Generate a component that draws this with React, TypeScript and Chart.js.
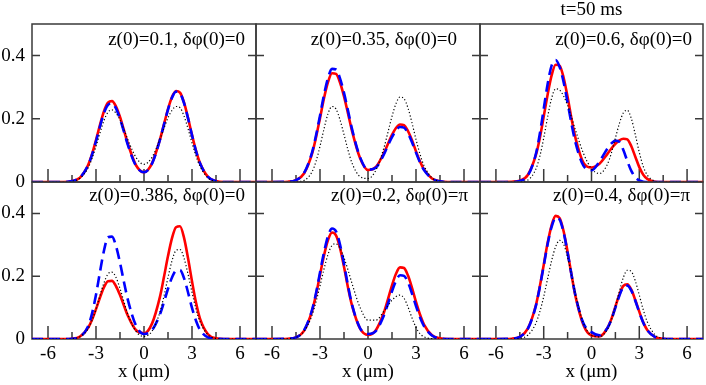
import React, { useEffect, useRef } from 'react';
import { Chart, registerables } from 'chart.js';

Chart.register(...registerables);

// ---------------- data ----------------
const X_POS = [-7, -6, -5, -4.5, -4, -3.5, -3.25, -3, -2.75, -2.5, -2.25, -2, -1.75, -1.5, -1.25, -1, -0.5, 0, 0.5, 1, 1.25, 1.5, 1.75, 2, 2.25, 2.5, 2.75, 3, 3.25, 3.5, 4, 4.5, 5, 6, 7];

const P1_RED = [0, 0, 0, 0.003, 0.014, 0.053, 0.088, 0.133, 0.181, 0.224, 0.251, 0.256, 0.239, 0.206, 0.163, 0.120, 0.053, 0.031, 0.059, 0.135, 0.183, 0.231, 0.269, 0.288, 0.283, 0.252, 0.203, 0.149, 0.099, 0.060, 0.016, 0.003, 0, 0, 0];
const P1_BLUE = [0, 0, 0, 0.003, 0.014, 0.052, 0.086, 0.129, 0.176, 0.218, 0.244, 0.249, 0.233, 0.200, 0.159, 0.116, 0.051, 0.031, 0.058, 0.134, 0.182, 0.229, 0.267, 0.286, 0.281, 0.250, 0.202, 0.148, 0.098, 0.059, 0.016, 0.003, 0, 0, 0];
const P1_DOT = [0, 0, 0, 0.002, 0.012, 0.044, 0.074, 0.113, 0.155, 0.195, 0.221, 0.228, 0.218, 0.196, 0.166, 0.133, 0.078, 0.056, 0.078, 0.136, 0.170, 0.203, 0.227, 0.239, 0.235, 0.209, 0.169, 0.124, 0.082, 0.050, 0.013, 0.002, 0, 0, 0];

const P2_RED = [0, 0, 0.001, 0.006, 0.027, 0.089, 0.141, 0.202, 0.265, 0.316, 0.344, 0.342, 0.315, 0.271, 0.217, 0.162, 0.076, 0.038, 0.048, 0.092, 0.121, 0.149, 0.171, 0.182, 0.180, 0.161, 0.132, 0.097, 0.065, 0.040, 0.011, 0.002, 0, 0, 0];
const P2_BLUE = [0, 0, 0.001, 0.006, 0.028, 0.093, 0.147, 0.210, 0.276, 0.329, 0.358, 0.356, 0.328, 0.282, 0.226, 0.168, 0.079, 0.039, 0.046, 0.088, 0.116, 0.142, 0.163, 0.174, 0.172, 0.154, 0.126, 0.093, 0.062, 0.038, 0.011, 0.002, 0, 0, 0];
const P2_DOT = [0, 0, 0, 0.001, 0.005, 0.032, 0.065, 0.113, 0.168, 0.216, 0.239, 0.231, 0.197, 0.150, 0.101, 0.060, 0.017, 0.011, 0.038, 0.109, 0.158, 0.208, 0.248, 0.269, 0.264, 0.234, 0.187, 0.135, 0.088, 0.052, 0.013, 0.002, 0, 0, 0];

const P3_RED = [0, 0, 0.001, 0.004, 0.022, 0.084, 0.138, 0.207, 0.278, 0.338, 0.371, 0.368, 0.330, 0.269, 0.199, 0.138, 0.060, 0.046, 0.058, 0.089, 0.106, 0.121, 0.132, 0.137, 0.135, 0.113, 0.080, 0.047, 0.023, 0.010, 0.001, 0, 0, 0, 0];
const P3_BLUE = [0, 0, 0, 0.003, 0.020, 0.087, 0.151, 0.231, 0.311, 0.369, 0.386, 0.364, 0.316, 0.251, 0.183, 0.124, 0.051, 0.037, 0.065, 0.106, 0.122, 0.131, 0.127, 0.101, 0.066, 0.035, 0.015, 0.005, 0.001, 0, 0, 0, 0, 0, 0];
const P3_DOT = [0, 0, 0, 0.001, 0.006, 0.040, 0.080, 0.139, 0.207, 0.266, 0.295, 0.291, 0.272, 0.242, 0.204, 0.163, 0.090, 0.042, 0.027, 0.056, 0.092, 0.139, 0.185, 0.219, 0.227, 0.201, 0.150, 0.094, 0.049, 0.022, 0.003, 0, 0, 0, 0];

const P4_RED = [0, 0, 0, 0.001, 0.008, 0.035, 0.061, 0.095, 0.132, 0.165, 0.184, 0.185, 0.168, 0.140, 0.106, 0.073, 0.028, 0.018, 0.049, 0.135, 0.198, 0.264, 0.321, 0.356, 0.359, 0.323, 0.258, 0.184, 0.116, 0.065, 0.015, 0.002, 0, 0, 0];
const P4_BLUE = [0, 0, 0, 0.001, 0.007, 0.040, 0.081, 0.141, 0.214, 0.282, 0.324, 0.326, 0.296, 0.243, 0.181, 0.123, 0.043, 0.016, 0.028, 0.079, 0.118, 0.160, 0.196, 0.218, 0.220, 0.194, 0.149, 0.099, 0.058, 0.029, 0.005, 0.001, 0, 0, 0];
const P4_DOT = [0, 0, 0, 0.001, 0.007, 0.032, 0.059, 0.095, 0.139, 0.179, 0.207, 0.213, 0.196, 0.161, 0.118, 0.077, 0.024, 0.008, 0.025, 0.086, 0.137, 0.196, 0.249, 0.282, 0.285, 0.258, 0.207, 0.149, 0.095, 0.055, 0.013, 0.002, 0, 0, 0];

const P5_RED = [0, 0, 0.001, 0.005, 0.026, 0.089, 0.141, 0.204, 0.266, 0.315, 0.339, 0.330, 0.290, 0.230, 0.164, 0.107, 0.034, 0.013, 0.029, 0.085, 0.127, 0.171, 0.208, 0.228, 0.226, 0.202, 0.163, 0.118, 0.078, 0.046, 0.012, 0.002, 0, 0, 0];
const P5_BLUE = [0, 0, 0.001, 0.005, 0.027, 0.092, 0.146, 0.212, 0.276, 0.327, 0.352, 0.343, 0.301, 0.239, 0.170, 0.110, 0.035, 0.016, 0.026, 0.076, 0.113, 0.152, 0.185, 0.203, 0.201, 0.180, 0.145, 0.105, 0.069, 0.041, 0.011, 0.002, 0, 0, 0];
const P5_DOT = [0, 0, 0.001, 0.005, 0.024, 0.075, 0.118, 0.169, 0.223, 0.269, 0.298, 0.303, 0.289, 0.259, 0.220, 0.177, 0.101, 0.060, 0.060, 0.089, 0.106, 0.124, 0.135, 0.140, 0.130, 0.102, 0.067, 0.037, 0.017, 0.007, 0.001, 0, 0, 0, 0];

const P6_RED = [0, 0, 0.001, 0.007, 0.033, 0.106, 0.166, 0.236, 0.307, 0.363, 0.392, 0.385, 0.343, 0.277, 0.203, 0.135, 0.044, 0.011, 0.008, 0.035, 0.064, 0.103, 0.142, 0.169, 0.174, 0.157, 0.124, 0.087, 0.053, 0.029, 0.006, 0.001, 0, 0, 0];
const P6_BLUE = [0, 0, 0.001, 0.007, 0.032, 0.104, 0.164, 0.233, 0.303, 0.358, 0.386, 0.380, 0.339, 0.275, 0.203, 0.137, 0.049, 0.022, 0.012, 0.035, 0.062, 0.100, 0.138, 0.165, 0.170, 0.154, 0.122, 0.085, 0.052, 0.028, 0.006, 0.001, 0, 0, 0];
const P6_DOT = [0, 0, 0, 0.002, 0.012, 0.049, 0.086, 0.135, 0.193, 0.250, 0.294, 0.314, 0.302, 0.261, 0.203, 0.141, 0.050, 0.012, 0.007, 0.031, 0.060, 0.103, 0.152, 0.196, 0.219, 0.215, 0.185, 0.140, 0.093, 0.055, 0.013, 0.002, 0, 0, 0];

const PANEL_LABELS = [
  'z(0)=0.1, δφ(0)=0',
  'z(0)=0.35, δφ(0)=0',
  'z(0)=0.6, δφ(0)=0',
  'z(0)=0.386, δφ(0)=0',
  'z(0)=0.2, δφ(0)=π',
  'z(0)=0.4, δφ(0)=π',
];
const TIME_LABEL = 't=50 ms';
const X_TITLE = 'x (μm)';
const X_MIN = -7;
const X_MAX = 7;
const X_STEP = 1.5;
const X_LABEL_STEP = 3;
const Y_MIN = 0;
const Y_MAX = 0.5;
const Y_STEP = 0.2;

const PANELS = [
  [P1_RED, P1_BLUE, P1_DOT],
  [P2_RED, P2_BLUE, P2_DOT],
  [P3_RED, P3_BLUE, P3_DOT],
  [P4_RED, P4_BLUE, P4_DOT],
  [P5_RED, P5_BLUE, P5_DOT],
  [P6_RED, P6_BLUE, P6_DOT],
];

// ---------------- layout / style ----------------
const COL_LEFT = [32, 256, 480];
const COL_RIGHT = [256, 480, 703];
const ROW_TOP = [24, 182];
const ROW_BOTTOM = [182, 339];
const LABEL_RIGHT_INSET = [11, 23, 11, 11, 12, 13];
const LABEL_DY = [16, 14];
const FONT_FAMILY = '"Liberation Serif", "Times New Roman", serif';
const FONT_SIZE = 19;
const FRAME_COLOR = '#3a3a3a';
const RED = 'rgb(255,0,0)';
const BLUE = 'rgb(0,0,255)';

const toPoints = (ys: number[]) => X_POS.map((x, i) => ({ x, y: ys[i] }));

const framePlugin = {
  id: 'frame',
  beforeDatasetsDraw(chart: any) {
    const { ctx, chartArea: a, scales } = chart;
    const xs = scales.x;
    const ys = scales.y;
    ctx.save();
    ctx.strokeStyle = FRAME_COLOR;
    ctx.lineWidth = 1.5;
    ctx.strokeRect(a.left, a.top, a.right - a.left, a.bottom - a.top);
    ctx.beginPath();
    for (const t of xs.ticks) {
      const px = xs.getPixelForValue(t.value);
      const q = t.value / X_LABEL_STEP;
      const len = Math.abs(q - Math.round(q)) < 1e-6 ? 13 : 7;
      ctx.moveTo(px, a.bottom);
      ctx.lineTo(px, a.bottom - len);
    }
    for (const t of ys.ticks) {
      if (t.value <= Y_MIN) continue;
      const py = ys.getPixelForValue(t.value);
      ctx.moveTo(a.left, py);
      ctx.lineTo(a.left + 8, py);
      ctx.moveTo(a.right, py);
      ctx.lineTo(a.right - 8, py);
    }
    ctx.stroke();
    ctx.restore();
  },
  afterDraw(chart: any, _args: any, opts: any) {
    const { ctx, chartArea: a } = chart;
    ctx.save();
    ctx.font = `${FONT_SIZE}px ${FONT_FAMILY}`;
    ctx.fillStyle = '#000';
    ctx.textBaseline = 'middle';
    ctx.textAlign = 'right';
    ctx.fillText(opts.label, a.right - opts.inset, a.top + opts.dy);
    if (opts.time) {
      ctx.textAlign = 'center';
      ctx.fillText(opts.time, (a.left + a.right) / 2, a.top - 14);
    }
    ctx.restore();
  },
};

function Panel({ index }: { index: number }) {
  const ref = useRef<HTMLCanvasElement | null>(null);
  const r = Math.floor(index / 3);
  const c = index % 3;
  const w = COL_RIGHT[c] - COL_LEFT[c];
  const h = ROW_BOTTOM[r] - ROW_TOP[r];
  const padTop = 24;
  const yAxisW = 32;
  const padRight = 3;
  const xAxisH = 46;
  const cw = yAxisW + w + padRight;
  const ch = padTop + h + xAxisH;

  useEffect(() => {
    const [red, blue, dot] = PANELS[index];
    const font = { family: FONT_FAMILY, size: FONT_SIZE };
    const chart = new Chart(ref.current as HTMLCanvasElement, {
      type: 'line',
      data: {
        datasets: [
          {
            data: toPoints(dot),
            borderColor: '#000',
            borderWidth: 1.2,
            borderDash: [1.2, 2.2],
            pointRadius: 0,
            cubicInterpolationMode: 'monotone',
            fill: false,
          },
          {
            data: toPoints(blue),
            borderColor: BLUE,
            borderWidth: 2.6,
            borderDash: [11, 6],
            pointRadius: 0,
            cubicInterpolationMode: 'monotone',
            fill: false,
          },
          {
            data: toPoints(red),
            borderColor: RED,
            borderWidth: 2.6,
            pointRadius: 0,
            cubicInterpolationMode: 'monotone',
            fill: false,
          },
        ],
      } as any,
      options: {
        responsive: false,
        animation: false,
        events: [],
        layout: { padding: { top: padTop, right: padRight, left: 0, bottom: 0 } },
        scales: {
          x: {
            type: 'linear',
            min: X_MIN,
            max: X_MAX,
            afterFit: (s: any) => { s.height = xAxisH; },
            grid: { display: false, drawTicks: false },
            border: { display: false },
            ticks: {
              stepSize: X_STEP,
              includeBounds: false,
              autoSkip: false,
              maxRotation: 0,
              display: r === 1,
              padding: 4,
              color: '#000',
              font,
              callback: (v: any) => {
                const q = v / X_LABEL_STEP;
                return Math.abs(q - Math.round(q)) < 1e-6 ? String(Math.round(v)) : '';
              },
            },
            title: { display: r === 1, text: X_TITLE, color: '#000', font, padding: { top: 0, bottom: 2 } },
          },
          y: {
            type: 'linear',
            min: Y_MIN,
            max: Y_MAX,
            afterFit: (s: any) => { s.width = yAxisW; },
            grid: { display: false, drawTicks: false },
            border: { display: false },
            ticks: {
              stepSize: Y_STEP,
              includeBounds: false,
              display: c === 0,
              padding: 7,
              color: '#000',
              font,
              callback: (v: any) => String(Number(Number(v).toFixed(1))),
            },
          },
        },
        plugins: {
          legend: { display: false },
          tooltip: { enabled: false },
          frame: {
            label: PANEL_LABELS[index],
            inset: LABEL_RIGHT_INSET[index],
            dy: LABEL_DY[r],
            time: index === 2 ? TIME_LABEL : '',
          },
        } as any,
      },
      plugins: [framePlugin as any],
    });
    return () => chart.destroy();
  }, [index]);

  return (
    <canvas
      ref={ref}
      width={cw}
      height={ch}
      style={{
        position: 'absolute',
        left: COL_LEFT[c] - yAxisW,
        top: ROW_TOP[r] - padTop,
        width: cw,
        height: ch,
        display: 'block',
      }}
    />
  );
}

export default function App() {
  return (
    <div style={{ position: 'absolute', left: 0, top: 0, width: 706, height: 385, background: '#fff' }}>
      {[0, 1, 2, 3, 4, 5].map((i) => (
        <Panel key={i} index={i} />
      ))}
    </div>
  );
}
